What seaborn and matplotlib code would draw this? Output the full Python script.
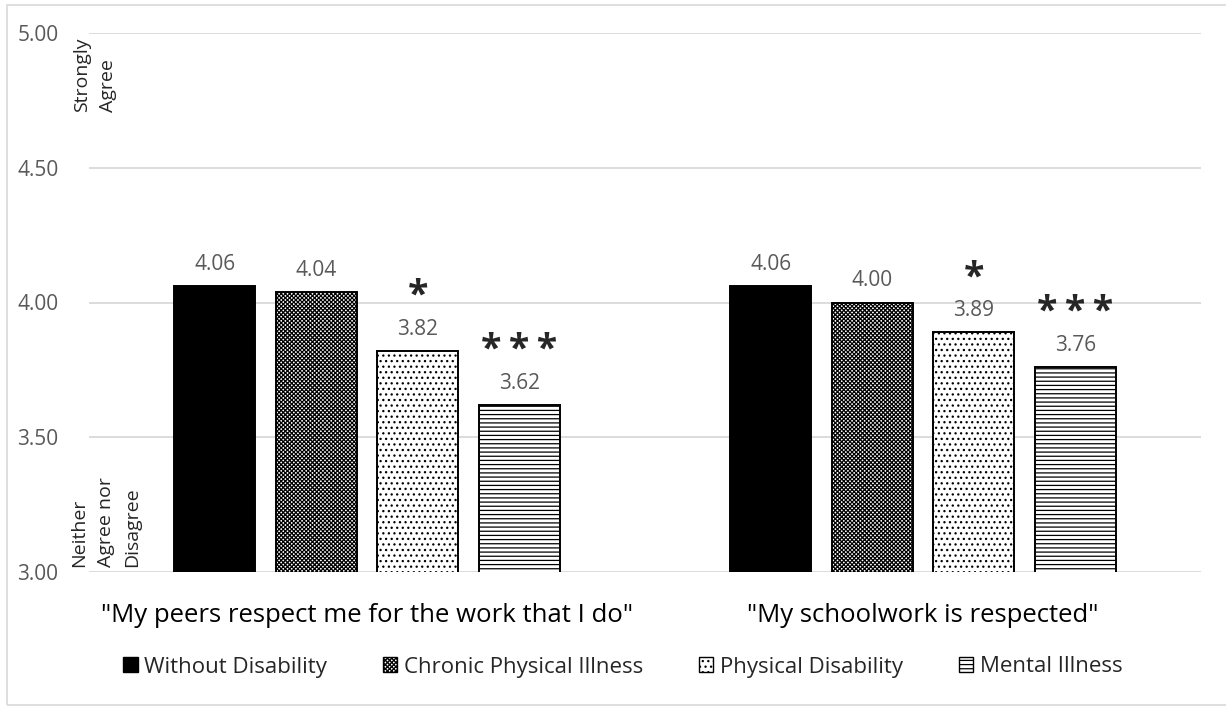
import pandas as pd
import matplotlib.pyplot as plt
from matplotlib.patches import Patch, Rectangle
import seaborn as sns

# values
statements = ['"My peers respect me for the work that I do"', '"My schoolwork is respected"']
groups = ["Without Disability", "Chronic Physical Illness", "Physical Disability", "Mental Illness"]
peers_means = [4.06, 4.04, 3.82, 3.62]
schoolwork_means = [4.06, 4.00, 3.89, 3.76]
peers_sig = ["", "", "*", "***"]
schoolwork_sig = ["", "", "*", "***"]
y_ticks = [3.00, 3.50, 4.00, 4.50, 5.00]

data = pd.DataFrame({
    "Statement": [statements[0]] * 4 + [statements[1]] * 4,
    "Group": groups * 2,
    "Mean": peers_means + schoolwork_means,
})
sig = {statements[0]: peers_sig, statements[1]: schoolwork_sig}

colors = ["black", "white", "white", "white"]
hatches = [None, "xxxxxxxx", "...", "----"]

sns.set_style("white")
plt.rcParams["font.family"] = ["Open Sans", "DejaVu Sans"]
plt.rcParams["hatch.linewidth"] = 0.9

fig = plt.figure(figsize=(12.26, 7.07), dpi=100)
ax = fig.add_axes([89 / 1226, 1 - 572 / 707, 1112 / 1226, 539 / 707])

sns.barplot(data=data, x="Statement", y="Mean", hue="Group", hue_order=groups,
            palette=colors, width=0.73, gap=0.2, edgecolor="black", linewidth=1.4,
            errorbar=None, legend=False, ax=ax)

for i, cont in enumerate(ax.containers):
    for j, bar in enumerate(cont):
        if hatches[i]:
            bar.set_hatch(hatches[i])
        star = sig[statements[j]][i]
        if star:
            # spread the stars a little, like the original
            txt = "\u2009".join(star)
            ax.annotate(txt, (bar.get_x() + bar.get_width() / 2, bar.get_height()),
                        xytext=(0, 54), textcoords="offset pixels",
                        ha="center", va="center", fontsize=27, fontweight="bold")
    ax.bar_label(cont, fmt="%.2f", padding=8, fontsize=15, color="#595959")

ax.set_ylim(3, 5)
ax.set_xlim(-0.5, 1.5)
ax.set_yticks(y_ticks)
ax.set_yticklabels([f"{v:.2f}" for v in y_ticks])
ax.yaxis.grid(True, color="#d9d9d9", linewidth=1.3)
ax.set_axisbelow(True)
sns.despine(ax=ax, left=True, bottom=True)
ax.tick_params(axis="y", length=0, labelsize=15, labelcolor="#595959", pad=22)
ax.tick_params(axis="x", length=0, labelsize=18.5, labelcolor="black", pad=22)
ax.set_xlabel("")
ax.set_ylabel("")

# scale anchors
fig.text(95 / 1226, 1 - 38 / 707, "Strongly\nAgree", rotation=90, ha="center", va="top",
         multialignment="left", fontsize=14, linespacing=1.6)
fig.text(106 / 1226, 1 - 567 / 707, "Neither\nAgree nor\nDisagree", rotation=90, ha="center",
         va="bottom", multialignment="left", fontsize=14, linespacing=1.6)

handles = [Patch(facecolor=c, edgecolor="black", hatch=h, linewidth=1.0)
           for c, h in zip(colors, hatches)]
fig.legend(handles, groups, loc="center", bbox_to_anchor=(0.508, 1 - 667 / 707), ncol=4,
           frameon=False, fontsize=16, handlelength=0.65, handleheight=0.65,
           handletextpad=0.3, columnspacing=2.5)

fig.add_artist(Rectangle((7 / 1226, 2 / 707), 1.0, 1 - 7 / 707, transform=fig.transFigure,
                         fill=False, edgecolor="#d9d9d9", linewidth=1.2))

fig.savefig("out.png", dpi=100)
